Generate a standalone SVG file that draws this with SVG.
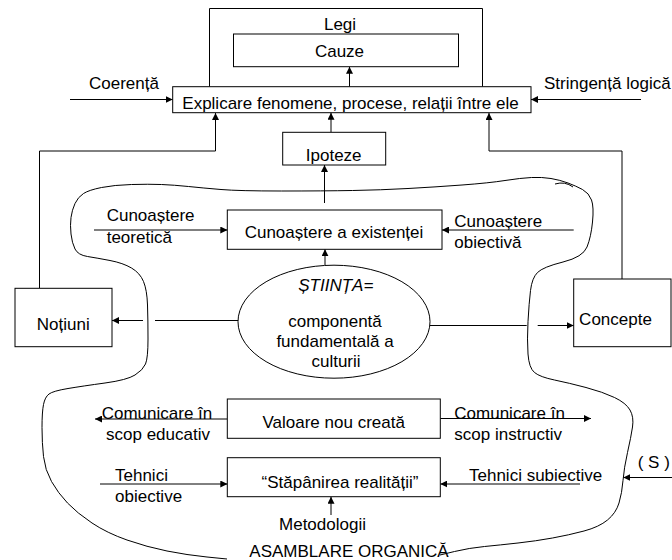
<svg xmlns="http://www.w3.org/2000/svg" width="672" height="560" viewBox="0 0 672 560">
<style>
text{font-family:"Liberation Sans",Arial,sans-serif;font-size:17px;fill:#000}
.m{text-anchor:middle}
.box{fill:#fff;stroke:#000;stroke-width:1}
.ln{fill:none;stroke:#000;stroke-width:1}
.ar{fill:none;stroke:#000;stroke-width:1;marker-end:url(#ah)}
</style>
<defs>
<marker id="ah" markerUnits="userSpaceOnUse" markerWidth="7" markerHeight="7" refX="7" refY="3.5" orient="auto">
<path d="M0,0 L7,3.5 L0,7 z" fill="#000"/>
</marker>
</defs>
<rect width="672" height="560" fill="#fff"/>
<g id="blob">
<path class="ln" d="M440,555 L454.5,551.5 Q469,548 484.5,546.5 Q500,545 518,543 Q536,541 552.5,538 Q569,535 584,531 Q599,527 607.5,520 Q616,513 619,503 Q622,493 623,480.5 Q624,468 627.5,452.5 Q631,437 632.5,427 Q634,417 630,410 Q626,403 614.5,397.5 Q603,392 586,387.5 Q569,383 554.5,380 Q540,377 534.5,372.5 Q529,368 528,354 Q527,340 528,321.5 Q529,303 530.5,290.5 Q532,278 537.5,272.5 Q543,267 563,262 Q583,257 587,247 Q591,237 592.5,222 Q594,207 591.5,200 Q589,193 582.5,189.5 Q576,186 568,183 Q560,180 551,178.5 Q542,177 531.5,177.5 Q521,178 505,180.5 Q489,183 462,185 Q435,187 408,188.5 Q381,190 352.5,190.5 Q324,191 281.5,191 Q239,191 221,189.5 Q203,188 188.5,186.5 Q174,185 161.5,184.5 Q149,184 131.5,184.5 Q114,185 101.5,187.5 Q89,190 83.5,193.5 Q78,197 75,203.5 Q72,210 71,217.5 Q70,225 71,234 Q72,243 75,249 Q78,255 87.5,256.5 Q97,258 110,260.5 Q123,263 131.5,268 Q140,273 143.5,281.5 Q147,290 147.5,305 Q148,320 148,339 Q148,358 145.5,364 Q143,370 135,375 Q127,380 105,383 Q83,386 68,388.5 Q53,391 49,394 Q45,397 43.5,404.5 Q42,412 42,427.5 Q42,443 43.5,456.5 Q45,470 51.5,481.5 Q58,493 67.5,503 Q77,513 92,523 Q107,533 127,540 Q147,547 167,551 Q187,555 207,557 L227,559"/>
<path class="ln" d="M555,184 Q565,181 573,187"/>
</g>
<g id="connectors">
<path class="ar" d="M39.5,288 V151 H215.5 V113"/>
<path class="ar" d="M622,279 V151 H489 V113"/>
<path class="ar" d="M70,99.5 H172.7"/>
<path class="ar" d="M641,99.5 H531"/>
<path class="ar" d="M349.5,86.7 V66.7"/>
<path class="ar" d="M331,132.3 V112.7"/>
<path class="ar" d="M324.5,203 V165"/>
<path class="ar" d="M325,265 V249.3"/>
<path class="ar" d="M94,230 H227.3"/>
<path class="ar" d="M573.7,230 H442"/>
<path class="ln" d="M239,320.5 H155"/>
<path class="ar" d="M143,320.5 H112"/>
<path class="ln" d="M430,325.5 H526.7"/>
<path class="ar" d="M537.7,325.5 H573.7"/>
<path class="ar" d="M227.3,419 H95"/>
<path class="ar" d="M440.3,418.5 H591"/>
<path class="ar" d="M100,484 H227.3"/>
<path class="ar" d="M580,484 H440.3"/>
<path class="ar" d="M331,515 V496.7"/>
<path class="ar" d="M672,477.5 H623.3"/>
</g>
<g id="legi">
<path class="ln" d="M209.5,86.7 V8.5 H482.5 V86.7"/>
<text class="m" x="340" y="29.5">Legi</text>
</g>
<g id="cauze">
<rect class="box" x="233.5" y="34" width="225" height="32.7"/>
<text class="m" x="339.5" y="57">Cauze</text>
</g>
<g id="explicare">
<rect class="box" x="172.7" y="86.7" width="358.3" height="26"/>
<text class="m" x="350.5" y="109">Explicare fenomene, procese, relații între ele</text>
</g>
<g id="coerenta"><text x="89" y="89">Coerență</text></g>
<g id="stringenta"><text x="544" y="89">Stringență logică</text></g>
<g id="ipoteze">
<rect class="box" x="282.7" y="132.3" width="103" height="32.7"/>
<text class="m" x="333.7" y="161">Ipoteze</text>
</g>
<g id="cunoastere-teoretica">
<text x="106.7" y="221">Cunoaștere</text>
<text x="106.7" y="242.7">teoretică</text>
</g>
<g id="cunoastere-existentei">
<rect class="box" x="227.3" y="210" width="214.7" height="39.3"/>
<text class="m" x="334" y="238.3">Cunoaștere a existenței</text>
</g>
<g id="cunoastere-obiectiva">
<text x="454.3" y="227">Cunoaștere</text>
<text x="454.3" y="248.3">obiectivă</text>
</g>
<g id="stiinta">
<ellipse class="box" cx="334" cy="321.7" rx="96" ry="56.5"/>
<text class="m" x="335.8" y="290.5" font-style="italic">ȘTIINȚA=</text>
<text class="m" x="335" y="326.7">componentă</text>
<text class="m" x="335" y="347.3">fundamentală a</text>
<text class="m" x="336" y="366.7">culturii</text>
</g>
<g id="notiuni">
<rect class="box" x="15" y="288.3" width="97" height="58.4"/>
<text class="m" x="63.3" y="330">Noțiuni</text>
</g>
<g id="concepte">
<rect class="box" x="573.7" y="279" width="97.3" height="67.7"/>
<text class="m" x="615.5" y="325">Concepte</text>
</g>
<g id="comunicare-educativ">
<text x="101.7" y="419.3">Comunicare în</text>
<text x="106" y="440">scop educativ</text>
</g>
<g id="valoare">
<rect class="box" x="227.3" y="399" width="213" height="39.3"/>
<text class="m" x="333.7" y="428.3">Valoare nou creată</text>
</g>
<g id="comunicare-instructiv">
<text x="454.3" y="419">Comunicare în</text>
<text x="454.3" y="440">scop instructiv</text>
</g>
<g id="tehnici-obiective">
<text x="115" y="480.7">Tehnici</text>
<text x="115" y="501.7">obiective</text>
</g>
<g id="stapanirea">
<rect class="box" x="227.3" y="457.7" width="213" height="39"/>
<text class="m" x="340" y="488.3">“Stăpânirea realității”</text>
</g>
<g id="tehnici-subiective"><text x="469" y="481">Tehnici subiective</text></g>
<g id="s"><text x="637.7" y="468.3">( S )</text></g>
<g id="metodologii"><text class="m" x="322.5" y="530">Metodologii</text></g>
<g id="asamblare"><text class="m" x="349" y="556.7">ASAMBLARE ORGANICĂ</text></g>
</svg>
